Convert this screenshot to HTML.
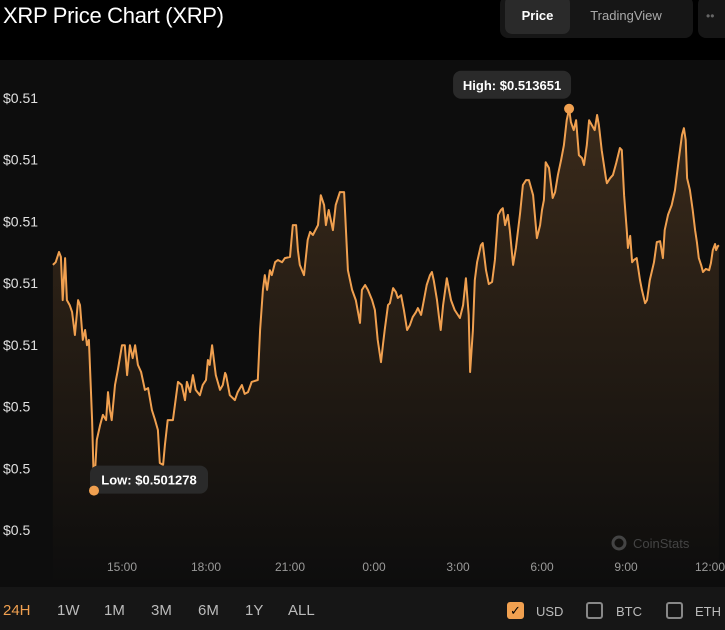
<!DOCTYPE html>
<html><head><meta charset="utf-8"><style>
*{margin:0;padding:0;box-sizing:border-box}
body{width:725px;height:630px;background:#000;font-family:"Liberation Sans",sans-serif;position:relative;overflow:hidden;color:#fff}
.abs{position:absolute}
</style></head><body>
<div class="abs" style="left:3px;top:3px;font-size:22px;color:#fff;letter-spacing:-0.3px">XRP Price Chart (XRP)</div>
<div class="abs" style="left:500px;top:-4px;width:193px;height:42px;background:#161616;border-radius:8px"></div>
<div class="abs" style="left:505px;top:-4px;width:65px;height:38px;background:#2a2a2a;border-radius:7px;font-size:13px;font-weight:bold;text-align:center;line-height:40px">Price</div>
<div class="abs" style="left:576px;top:-4px;width:100px;height:38px;font-size:13px;color:#aaa;text-align:center;line-height:40px">TradingView</div>
<div class="abs" style="left:698px;top:-4px;width:40px;height:42px;background:#161616;border-radius:8px;color:#666;font-size:12px;line-height:40px;padding-left:8px">••</div>
<div class="abs" style="left:0;top:60px;width:725px;height:527px;background:#0d0d0d"></div>
<div class="abs" style="left:0;top:587px;width:725px;height:43px;background:#161616"></div>
<svg class="abs" style="left:0;top:0" width="725" height="630">
<defs><linearGradient id="g" x1="0" y1="0" x2="0" y2="1"><stop offset="0" stop-color="#f0a050" stop-opacity="0.2"/><stop offset="0.75" stop-color="#f0a050" stop-opacity="0.05"/><stop offset="1" stop-color="#f0a050" stop-opacity="0"/></linearGradient></defs>
<g id="yaxis"></g><g id="xaxis"></g><g id="plot"></g>
<g><circle cx="619" cy="543" r="6" fill="none" stroke="#444" stroke-width="3"/><text x="633" y="548" fill="#444" font-size="13">CoinStats</text></g>
</svg>
<div class="abs" style="left:0;top:602px;width:725px;font-size:15px;color:#bbb">
<span class="abs" style="left:3px;color:#f0a050">24H</span>
<span class="abs" style="left:57px">1W</span>
<span class="abs" style="left:104px">1M</span>
<span class="abs" style="left:151px">3M</span>
<span class="abs" style="left:198px">6M</span>
<span class="abs" style="left:245px">1Y</span>
<span class="abs" style="left:288px">ALL</span>
<span class="abs" style="left:507px;top:0px;width:17px;height:17px;background:#f0a050;border-radius:3px;color:#000;font-size:13px;text-align:center;line-height:17px">✓</span>
<span class="abs" style="left:536px;font-size:13px;top:2px">USD</span>
<span class="abs" style="left:586px;top:0px;width:17px;height:17px;border:2px solid #888;border-radius:3px"></span>
<span class="abs" style="left:616px;font-size:13px;top:2px">BTC</span>
<span class="abs" style="left:666px;top:0px;width:17px;height:17px;border:2px solid #888;border-radius:3px"></span>
<span class="abs" style="left:695px;font-size:13px;top:2px">ETH</span>
</div>
<script>
const times=[32,38,45,49,53,58,62,68,73,79,86,90,96,101,105,109,116,120,126,133,139,146,150,154,158,165,171,180,186,191,197,203,208,214,221,229,236,244,251,257,261,268,272,278,289,300,308,315,319,326,332,338,347,353,360,364,368,373,381,390,396,401,403,411,422,428,437,443,450,458,471,476,482,486,491,497,501,508,514,523,529,540,546,553,557,561,570,578,583,589,600,606,613,617,623,632,638,647,656,664,673,681,690,694,701,707,716,722,728,735,739,743,750,754,761,767,771,778,784,791,797,803,810,814,821,827,833,840,844,848,855,859,863,868,876,885,893,904,911,917,923,926,932,936,941,949,953,960,966,973,979,986,992,996,1001,1007,1011,1018,1024,1033,1039,1046,1052,1061,1069,1076,1080,1084,1088,1095,1103,1108,1114,1121,1127,1133,1138,1142,1148,1153,1159,1166,1170,1176,1181,1187,1193,1198,1202,1208,1217,1219,1226,1232,1239,1247,1251,1256,1262,1264,1269,1273,1277,1283,1290,1294,1301,1305,1311,1320,1326,1333,1339,1343,1350,1358,1365,1373,1380,1384,1388,1391,1397,1403,1408,1412,1416,1421,1425,1431,1438,1442,1446,1451,1453,1457,1459];
const prices=[.50859,.50868,.50901,.50885,.50745,.50881,.50745,.50729,.50706,.50632,.50745,.50729,.50616,.50648,.50599,.50616,.50356,.501278,.50292,.50340,.50373,.50356,.50447,.50389,.50356,.50470,.50518,.50599,.50599,.50502,.50599,.50557,.50599,.50535,.50512,.50454,.50460,.50389,.50356,.50324,.50217,.50211,.50275,.50356,.50356,.50480,.50470,.50421,.50480,.50447,.50502,.50454,.50437,.50470,.50486,.50551,.50535,.50599,.50502,.50454,.50470,.50509,.50502,.50437,.50421,.50447,.50470,.50441,.50447,.50480,.50486,.50648,.50778,.50826,.50778,.50842,.50826,.50868,.50875,.50868,.50881,.50885,.50988,.50988,.50907,.50859,.50826,.50940,.50966,.50956,.50988,.51085,.51053,.50988,.51037,.50972,.51053,.51095,.51095,.50842,.50778,.50745,.50671,.50778,.50794,.50778,.50745,.50713,.50616,.50544,.50599,.50648,.50729,.50735,.50784,.50771,.50752,.50761,.50713,.50648,.50664,.50690,.50706,.50719,.50697,.50745,.50794,.50826,.50836,.50810,.50745,.50693,.50648,.50729,.50816,.50745,.50713,.50687,.50729,.50816,.50697,.50512,.50648,.50810,.50868,.50923,.50930,.50842,.50797,.50804,.50875,.51021,.51037,.51043,.50988,.51021,.50972,.50859,.50914,.51027,.51118,.51134,.51134,.51085,.50946,.50988,.51037,.51069,.51192,.51173,.51076,.51095,.51150,.51199,.51247,.51328,.513651,.51322,.51296,.51328,.51215,.51205,.51183,.51247,.51328,.51312,.51296,.51345,.51312,.51231,.51140,.51124,.51140,.51150,.51189,.51238,.51231,.51085,.50966,.50914,.50953,.50868,.50875,.50881,.50810,.50778,.50735,.50745,.50810,.50868,.50933,.50936,.50881,.50972,.51021,.51053,.51102,.51199,.51280,.51302,.51264,.51140,.51102,.51037,.50972,.50933,.50881,.50859,.50836,.50846,.50842,.50865,.50907,.50927,.50907,.50920,.50923];
const yTicks=[0.500,0.502,0.504,0.506,0.508,0.510,0.512,0.514];
const xTickMinutes=[180,360,540,720,900,1080,1260,1440];
const xTickLabels=["15:00","18:00","21:00","0:00","3:00","6:00","9:00","12:00"];
const NS="http://www.w3.org/2000/svg";
const X=m=>122+(m-180)*28/60;
const Y=v=>530-(v-0.5)/0.014*432;
function mk(tag,attrs,parent){const e=document.createElementNS(NS,tag);for(const k in attrs)e.setAttribute(k,attrs[k]);parent.appendChild(e);return e;}
const ya=document.getElementById('yaxis'),xa=document.getElementById('xaxis'),pl=document.getElementById('plot');
yTicks.forEach(v=>{const t=mk('text',{x:3,y:Y(v)+5,fill:'#e0e0e0','font-size':14},ya);t.textContent='$'+parseFloat(v.toFixed(2));

});
xTickMinutes.forEach((m,i)=>{const t=mk('text',{x:X(m),y:571,fill:'#9a9a9a','font-size':12,'text-anchor':'middle'},xa);t.textContent=xTickLabels[i];

});
let d=times.map((m,i)=>(i?'L':'M')+X(m).toFixed(1)+','+Y(prices[i]).toFixed(1)).join('');
const base=585;
const area=mk('path',{d:d+'L'+X(times[times.length-1])+','+base+'L'+X(times[0])+','+base+'Z',fill:'url(#g)'},pl);


const line=mk('path',{d:d,fill:'none',stroke:'#f0a050','stroke-width':2,'stroke-linejoin':'round'},pl);


let lo=0,hi=0;prices.forEach((p,i)=>{if(p<prices[lo])lo=i;if(p>prices[hi])hi=i;});
function marker(i,label,name,above){const cx=X(times[i]),cy=Y(prices[i]);
const c=mk('circle',{cx:cx,cy:cy,r:5,fill:'#f0a050'},pl);


const w=118,h=28;const bx=above?cx-w+2:cx-4,by=above?cy-38:cy-25;
const g=mk('g',{},pl);


mk('rect',{x:bx,y:by,width:w,height:h,rx:8,fill:'#2a2a2a'},g);
const t=mk('text',{x:bx+w/2,y:by+19,fill:'#fff','font-size':13,'font-weight':'bold','text-anchor':'middle'},g);t.textContent=label+': $'+prices[i].toFixed(6);
if(!above)pl.appendChild(c);}
marker(lo,'Low','low',false);
marker(hi,'High','high',true);
</script>
</body></html>
